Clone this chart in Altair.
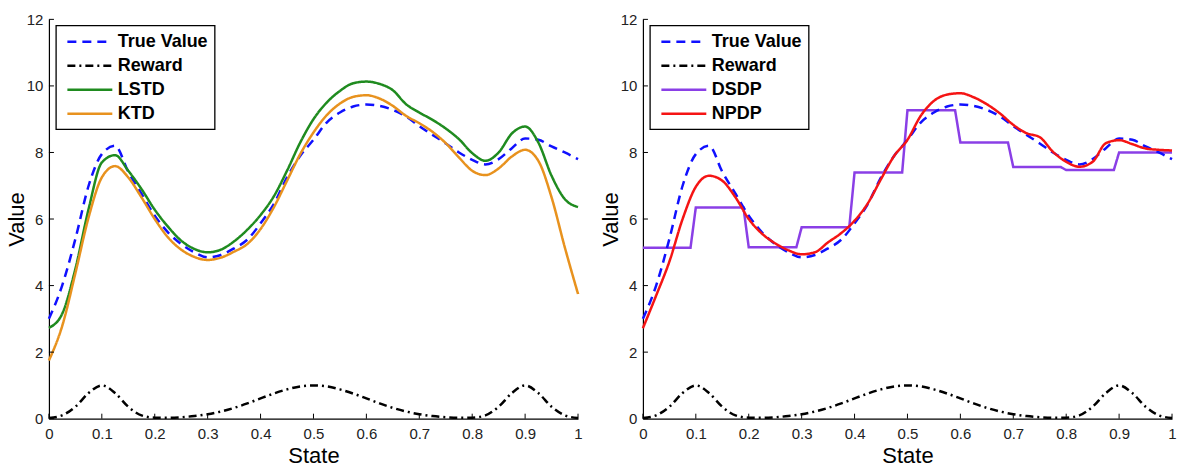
import altair as alt
import pandas as pd

# ---------------- data ----------------
x_grid = [0, 0.025, 0.05, 0.075, 0.1, 0.125, 0.15, 0.175, 0.2, 0.225, 0.25, 0.275,
          0.3, 0.325, 0.35, 0.375, 0.4, 0.425, 0.45, 0.475, 0.5, 0.525, 0.55, 0.575,
          0.6, 0.625, 0.65, 0.675, 0.7, 0.725, 0.75, 0.775, 0.8, 0.825, 0.85, 0.875,
          0.9, 0.925, 0.95, 0.975, 1.0]

true_value = [3.0, 4.0, 5.4, 7.0, 7.95, 8.2, 7.42, 6.76, 6.1, 5.6, 5.25, 5.0, 4.85, 4.92,
              5.12, 5.38, 5.87, 6.45, 7.25, 7.9, 8.38, 8.9, 9.2, 9.38, 9.44, 9.4, 9.28,
              9.08, 8.79, 8.53, 8.27, 8.0, 7.78, 7.64, 7.8, 8.13, 8.42, 8.38, 8.18, 8.0, 7.8]

reward = [0.02, 0.10, 0.36, 0.77, 1.0, 0.77, 0.36, 0.10, 0.03, 0.025, 0.044, 0.08, 0.135,
          0.216, 0.325, 0.458, 0.61, 0.755, 0.88, 0.97, 1.0, 0.97, 0.88, 0.755, 0.61,
          0.458, 0.325, 0.216, 0.135, 0.08, 0.044, 0.025, 0.03, 0.10, 0.36, 0.77, 1.0,
          0.77, 0.36, 0.10, 0.02]

lstd = [2.73, 3.15, 4.5, 6.3, 7.7, 7.92, 7.45, 6.9, 6.28, 5.77, 5.35, 5.1, 5.0, 5.08, 5.33,
        5.68, 6.12, 6.68, 7.45, 8.3, 9.0, 9.5, 9.85, 10.08, 10.13, 10.06, 9.87, 9.45, 9.2,
        8.98, 8.72, 8.4, 7.98, 7.75, 8.0, 8.57, 8.78, 8.3, 7.3, 6.6, 6.36]

ktd = [1.75, 2.78, 4.37, 6.05, 7.25, 7.59, 7.25, 6.65, 6.0, 5.45, 5.08, 4.86, 4.77, 4.84,
       5.02, 5.25, 5.7, 6.35, 7.15, 7.95, 8.6, 9.12, 9.47, 9.67, 9.72, 9.62, 9.4, 9.1,
       8.88, 8.62, 8.28, 7.85, 7.45, 7.32, 7.52, 7.88, 8.08, 7.75, 6.65, 5.15, 3.75]

npdp = [2.72, 3.7, 4.72, 6.0, 6.97, 7.3, 7.15, 6.65, 6.0, 5.56, 5.27, 5.06, 4.94, 5.0, 5.3,
        5.58, 5.95, 6.47, 7.2, 7.9, 8.38, 9.1, 9.55, 9.74, 9.78, 9.66, 9.45, 9.17, 8.83,
        8.58, 8.46, 8.02, 7.72, 7.57, 7.72, 8.28, 8.37, 8.25, 8.12, 8.08, 8.06]

dsdp_x = [0, 0.09, 0.1, 0.19, 0.2, 0.29, 0.3, 0.39, 0.4, 0.49, 0.5, 0.59, 0.6, 0.69,
          0.7, 0.79, 0.8, 0.89, 0.9, 1.0]
dsdp_v = [5.14, 5.14, 6.35, 6.35, 5.15, 5.15, 5.75, 5.75, 7.4, 7.4, 9.27, 9.27, 8.3, 8.3,
          7.56, 7.56, 7.47, 7.47, 8.0, 8.0]

x_ticks = [0, 0.1, 0.2, 0.3, 0.4, 0.5, 0.6, 0.7, 0.8, 0.9, 1]
y_ticks = [0, 2, 4, 6, 8, 10, 12]

left_names = ["True Value", "Reward", "LSTD", "KTD"]
right_names = ["True Value", "Reward", "DSDP", "NPDP"]

# ---------------- styling ----------------
FONT = "Liberation Sans"
W, H = 530, 400
BLUE, BLACK, GREEN, ORANGE, PURPLE, RED = "#1010ff", "#000000", "#1f8b1f", "#e8921e", "#8a3fe6", "#f51414"
DASH_TRUE, DASH_REWARD, SOLID = [9, 6], [8, 4, 2, 4], [1, 0]


def long_df(series_map, xs):
    rows = []
    for name, vals in series_map:
        for xv, vv in zip(xs, vals):
            rows.append({"x": xv, "v": vv, "series": name})
    return pd.DataFrame(rows)


xscale = alt.Scale(domain=[0, 1], nice=False, zero=False)
yscale = alt.Scale(domain=[0, 12], nice=False, zero=False)
xaxis = alt.Axis(values=x_ticks, format="~g", title="State", tickSize=0, labelPadding=8,
                 labelFlush=False, labelOverlap=False, titlePadding=4)
yaxis = alt.Axis(values=y_ticks, format="d", title="Value", tickSize=0, labelPadding=6,
                 labelFlush=False, labelOverlap=False, titlePadding=-2)


def legend():
    return alt.Legend(title=None, orient="none", legendX=7, legendY=6,
                      symbolType="M-2.5,0H2.5", symbolSize=324, symbolStrokeWidth=2.5,
                      labelFontSize=18, labelFontWeight="bold", labelFont=FONT,
                      labelColor="black", padding=6, rowPadding=4, strokeColor="black",
                      fillColor="white", labelOffset=17.5, symbolOffset=17.5)


def panel(names, colors, dashes, smooth_df, step_df=None):
    col = alt.Color("series:N", scale=alt.Scale(domain=names, range=colors), legend=legend())
    dsh = alt.StrokeDash("series:N", scale=alt.Scale(domain=names, range=dashes), legend=legend())
    X = alt.X("x:Q", scale=xscale, axis=xaxis)
    Y = alt.Y("v:Q", scale=yscale, axis=yaxis)
    layers = []
    if step_df is not None:
        layers.append(alt.Chart(step_df).mark_line(strokeWidth=2.5).encode(
            x=X, y=Y, color=col, strokeDash=dsh))
    layers.append(alt.Chart(smooth_df).mark_line(strokeWidth=2.5, interpolate="monotone").encode(
        x=X, y=Y, color=col, strokeDash=dsh, order=alt.Order("ord:Q")))
    xt = pd.DataFrame({"x": x_ticks, "v": [0.0] * len(x_ticks)})
    xt["v2"] = 0.15
    yt = pd.DataFrame({"v": y_ticks, "x": [0.0] * len(y_ticks)})
    yt["x2"] = 0.0095
    layers.append(alt.Chart(xt).mark_rule(color="black", strokeWidth=1).encode(
        x=X, y=Y, y2=alt.Y2("v2:Q")))
    layers.append(alt.Chart(yt).mark_rule(color="black", strokeWidth=1).encode(
        x=X, x2=alt.X2("x2:Q"), y=Y))
    return alt.layer(*layers).properties(width=W, height=H)


left_df = long_df([("True Value", true_value), ("Reward", reward), ("LSTD", lstd), ("KTD", ktd)], x_grid)
right_df = long_df([("True Value", true_value), ("Reward", reward), ("NPDP", npdp)], x_grid)
step_df = pd.DataFrame({"x": dsdp_x, "v": dsdp_v, "series": "DSDP"})
for d in (left_df, right_df):
    d["ord"] = d.index

left = panel(left_names, [BLUE, BLACK, GREEN, ORANGE], [DASH_TRUE, DASH_REWARD, SOLID, SOLID], left_df)
right = panel(right_names, [BLUE, BLACK, PURPLE, RED], [DASH_TRUE, DASH_REWARD, SOLID, SOLID], right_df, step_df)

chart = alt.hconcat(left, right, spacing=65, bounds="flush").resolve_scale(
    color="independent", strokeDash="independent"
).resolve_legend(
    color="independent", strokeDash="independent"
).properties(
    padding={"left": 5, "top": 12, "right": 5, "bottom": 3},
    background="white",
).configure_view(stroke=None).configure_axis(
    grid=False, domainColor="black", domainWidth=1.2,
    labelFont=FONT, labelFontSize=15, labelColor="#222222",
    titleFont=FONT, titleFontSize=22, titleFontWeight="normal", titleColor="black",
).configure_legend(strokeWidth=1.3)

chart.save("out.html", embed_options={"renderer": "svg", "actions": False})
